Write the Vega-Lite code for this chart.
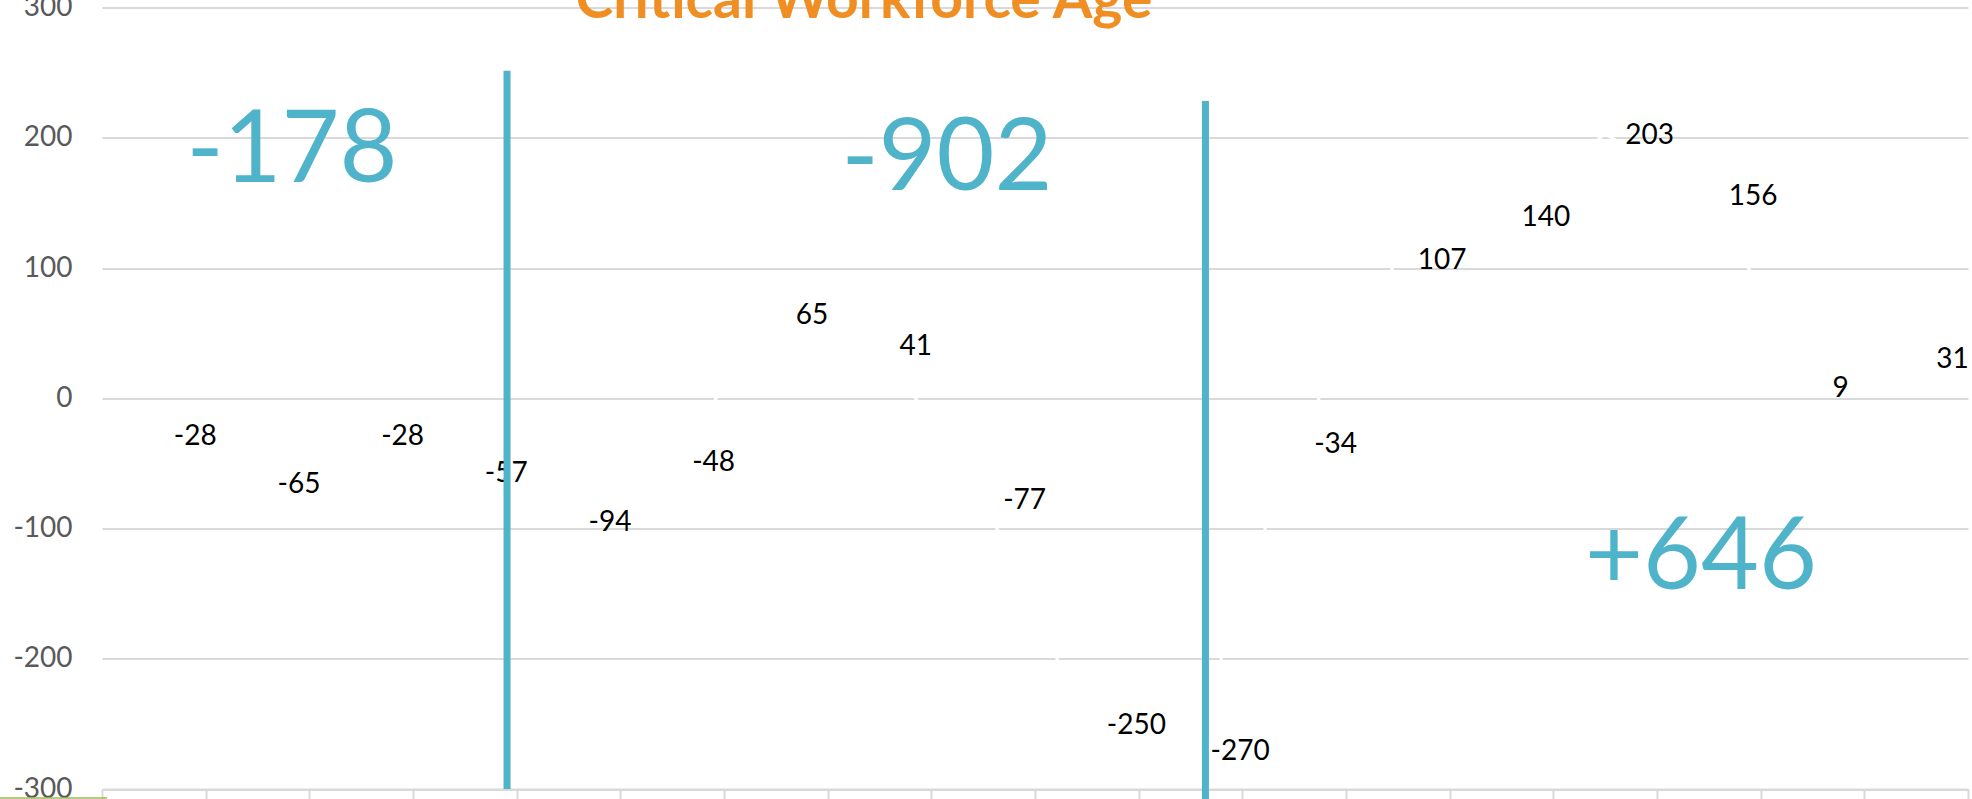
{
  "$schema": "https://vega.github.io/schema/vega-lite/v6.json",
  "autosize": {"type": "none"},
  "padding": {"left": 102, "top": 7.5, "right": 4, "bottom": 10},
  "width": 1866,
  "height": 781.5,
  "background": "white",
  "config": {"view": {"stroke": null}},
  "datasets": {
    "points": [
      {"x": 1, "y": -28, "label": "-28"}, {"x": 2, "y": -65, "label": "-65"},
      {"x": 3, "y": -28, "label": "-28"}, {"x": 4, "y": -57, "label": "-57"},
      {"x": 5, "y": -94, "label": "-94"}, {"x": 6, "y": -48, "label": "-48"},
      {"x": 7, "y": 65, "label": "65"}, {"x": 8, "y": 41, "label": "41"},
      {"x": 9, "y": -77, "label": "-77"}, {"x": 10, "y": -250, "label": "-250"},
      {"x": 11, "y": -270, "label": "-270"}, {"x": 12, "y": -34, "label": "-34"},
      {"x": 13, "y": 107, "label": "107"}, {"x": 14, "y": 140, "label": "140"},
      {"x": 15, "y": 203, "label": "203"}, {"x": 16, "y": 156, "label": "156"},
      {"x": 17, "y": 9, "label": "9"}, {"x": 18, "y": 31, "label": "31"}
    ],
    "dividers": [
      {"x": 4.407, "y": 251.5, "y2": -300},
      {"x": 11.144, "y": 228.2, "y2": -310}
    ],
    "totals": [
      {"x": 2.333, "y": 166, "label": "-178"},
      {"x": 8.651, "y": 160, "label": "-902"},
      {"x": 15.924, "y": -146.4, "label": "+646"}
    ],
    "titles": [
      {"x": 7.85, "y": 292, "label": "Critical Workforce Age"}
    ],
    "edge": [
      {"x": -0.49, "x2": 0.55, "y": -306.9}
    ]
  },
  "encoding": {
    "x": {
      "field": "x", "type": "quantitative",
      "scale": {"domain": [0.5, 18.5], "nice": false, "zero": false},
      "axis": {
        "title": null, "labels": false, "grid": false,
        "values": [0.5,1.5,2.5,3.5,4.5,5.5,6.5,7.5,8.5,9.5,10.5,11.5,12.5,13.5,14.5,15.5,16.5,17.5,18.5],
        "tickSize": 11, "tickColor": "#d9d9d9", "tickWidth": 2,
        "domainColor": "#d9d9d9", "domainWidth": 2
      }
    },
    "y": {
      "field": "y", "type": "quantitative",
      "scale": {"domain": [-300, 300], "nice": false, "zero": false},
      "axis": {
        "title": null, "values": [-300,-200,-100,0,100,200,300],
        "labelExpr": "datum.value < 0 ? '-' + abs(datum.value) : '' + datum.value",
        "domain": false, "ticks": false, "tickSize": 0, "labelPadding": 30,
        "labelFont": "Lato", "labelFontSize": 28, "labelColor": "#595959",
        "gridColor": "#d9d9d9", "gridWidth": 2
      }
    }
  },
  "layer": [
    {
      "data": {"name": "points"},
      "mark": {"type": "line", "color": "white", "strokeWidth": 3}
    },
    {
      "data": {"name": "points"},
      "mark": {"type": "text", "align": "left", "baseline": "middle", "dx": 20, "dy": 2, "font": "Lato", "fontSize": 28, "color": "black"},
      "encoding": {
        "text": {"field": "label", "type": "nominal"}
      }
    },
    {
      "data": {"name": "dividers"},
      "mark": {"type": "rule", "color": "#4FB3C9", "strokeWidth": 7},
      "encoding": {
        "y2": {"field": "y2"}
      }
    },
    {
      "data": {"name": "totals"},
      "mark": {"type": "text", "align": "center", "baseline": "alphabetic", "font": "Lato", "fontSize": 100, "color": "#4FB3C9"},
      "encoding": {
        "text": {"field": "label", "type": "nominal"}
      }
    },
    {
      "data": {"name": "titles"},
      "mark": {"type": "text", "align": "center", "baseline": "alphabetic", "font": "Lato", "fontWeight": "bold", "fontSize": 57, "color": "#EF8E22"},
      "encoding": {
        "text": {"field": "label", "type": "nominal"}
      }
    },
    {
      "data": {"name": "edge"},
      "mark": {"type": "rule", "color": "#9BBB59", "strokeWidth": 1.5},
      "encoding": {
        "x2": {"field": "x2"}
      }
    }
  ]
}
